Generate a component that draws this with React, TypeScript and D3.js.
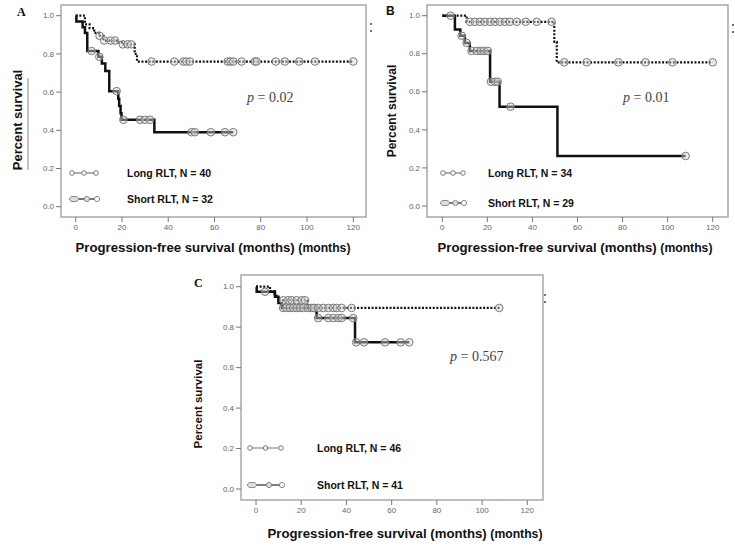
import React from "react";
import * as d3 from "d3";

// Kaplan-Meier step points [month, survival] and censor months
const longA = [[0, 1.0], [4, 0.955], [6, 0.935], [8, 0.91], [10, 0.895], [12, 0.87], [18, 0.86], [20, 0.85], [25.5, 0.8], [26.5, 0.76]];
const longAEnd = 120;
const longACens = [10.3, 12.3, 15.2, 17, 20.4, 22.5, 24, 32.8, 42.6, 46.5, 47.9, 49.4, 65.7, 66.9, 68.1, 71.7, 77.5, 78.2, 86.5, 90.4, 96.6, 103.4, 120];
const shortA = [[0, 1.0], [0.3, 0.97], [3, 0.94], [4, 0.91], [5, 0.815], [9.8, 0.785], [11.3, 0.75], [12.8, 0.71], [14.5, 0.605], [18.4, 0.565], [18.8, 0.527], [19.4, 0.489], [19.8, 0.455], [34, 0.39]];
const shortAEnd = 68.1;
const shortACens = [6.9, 10.2, 17.7, 20.6, 27.8, 29.9, 32.1, 50.1, 51.5, 58.4, 64.5, 68.1];

const longB = [[0, 1.0], [10.8, 0.968], [49.7, 0.863], [50.8, 0.755]];
const longBEnd = 120;
const longBCens = [12.3, 14.5, 16.7, 18.9, 21.2, 23.4, 25.6, 27.8, 30.0, 33.1, 37.0, 41.9, 48.5, 54.1, 64.1, 78.1, 90.2, 102.1, 120];
const shortB = [[0, 1.0], [5.6, 0.928], [8, 0.895], [10, 0.857], [12.2, 0.815], [21.2, 0.653], [25.4, 0.522], [51.1, 0.263]];
const shortBEnd = 108;
const shortBCens = [3.7, 8.6, 10.8, 13, 15.3, 17, 18.5, 20.2, 21.6, 23.4, 24.6, 30.3, 108];

const longC = [[0, 1.0], [6.2, 0.978], [8.2, 0.955], [9.9, 0.933], [22.7, 0.895]];
const longCEnd = 108;
const longCCens = [12.1, 14.3, 15.8, 18, 20.2, 21.7, 25.4, 27.6, 29.8, 32, 34.2, 35.7, 37.9, 42.3, 107.6];
const shortC = [[0, 1.0], [0.3, 0.975], [8.4, 0.95], [9.9, 0.92], [11.4, 0.895], [26.8, 0.845], [43.8, 0.725]];
const shortCEnd = 67.8;
const shortCCens = [4, 12, 13.5, 15, 16.5, 18, 19.5, 21, 23, 24.5, 26, 27.5, 32, 34.2, 36.4, 37.9, 43, 44.3, 47.8, 57.1, 64, 67.8];

const xTicks = [0, 20, 40, 60, 80, 100, 120];
const yTicks = [0, 0.2, 0.4, 0.6, 0.8, 1.0];

const SANS = "'Liberation Sans', Arial, sans-serif";
const SERIF = "'Liberation Serif', 'Times New Roman', serif";

const survAt = (steps, t) => {
  let v = steps[0][1];
  steps.forEach((s) => {
    if (s[0] <= t) v = s[1];
  });
  return v;
};

const Panel = ({ p }) => {
  const x = d3.scaleLinear().domain([0, 120]).range([p.x0, p.x120]);
  const y = d3.scaleLinear().domain([0, 1]).range([p.y0, p.y1]);
  const line = d3
    .line()
    .curve(d3.curveStepAfter)
    .x((d) => x(d[0]))
    .y((d) => y(d[1]));

  const curve = (steps, end) => line([...steps, [end, steps[steps.length - 1][1]]]);
  const cens = (steps, times, key) =>
    times.map((t, i) => (
      <circle key={key + i} cx={x(t)} cy={y(survAt(steps, t))} r={3.8}
        fill="#d8d8d8" fillOpacity={0.45} stroke="#7a7a7a" strokeWidth={1} />
    ));

  const [fl, ft, fr, fb] = p.frame;
  const midY = (ft + fb) / 2;

  return (
    <g>
      <rect x={fl} y={ft} width={fr - fl} height={fb - ft} fill="none" stroke="#9a9a9a" strokeWidth={1.3} />
      {yTicks.map((t) => (
        <g key={"y" + t}>
          <line x1={fl - 5} x2={fl} y1={y(t)} y2={y(t)} stroke="#777" strokeWidth={1} />
          <text x={fl - 7} y={y(t)} dy="0.33em" textAnchor="end" fontSize={8} fill="#666" fontFamily={SANS}>
            {t.toFixed(1)}
          </text>
        </g>
      ))}
      {xTicks.map((t) => (
        <g key={"x" + t}>
          <line x1={x(t)} x2={x(t)} y1={fb} y2={fb + 5} stroke="#777" strokeWidth={1} />
          <text x={x(t)} y={fb + 13} textAnchor="middle" fontSize={8} fill="#666" fontFamily={SANS}>
            {t}
          </text>
        </g>
      ))}

      <path d={curve(p.short, p.shortEnd)} fill="none" stroke="#111" strokeWidth={2.5} />
      <path d={curve(p.long, p.longEnd)} fill="none" stroke="#111" strokeWidth={2.2} strokeDasharray="2,1.6" />
      {cens(p.short, p.shortCens, "s")}
      {cens(p.long, p.longCens, "l")}

      {/* legend */}
      <line x1={p.leg.x1} x2={p.leg.x2} y1={p.leg.y1} y2={p.leg.y1} stroke="#777" strokeWidth={1.2} />
      {[0, 0.5, 1].map((f) => (
        <circle key={"lg" + f} cx={p.leg.x1 + 2 + f * (p.leg.x2 - p.leg.x1 - 4)} cy={p.leg.y1} r={2.3}
          fill="#fff" stroke="#777" strokeWidth={1} />
      ))}
      <text x={p.leg.tx} y={p.leg.y1} dy="0.35em" fontSize={p.legFont} fontWeight="bold" fontFamily={SANS} fill="#111">
        {p.longLabel}
      </text>
      <line x1={p.leg.x1} x2={p.leg.x2} y1={p.leg.y2} y2={p.leg.y2} stroke="#555" strokeWidth={1.6} />
      <ellipse cx={p.leg.x1 + 4} cy={p.leg.y2} rx={4.5} ry={2.6} fill="#ddd" stroke="#888" strokeWidth={1} />
      <circle cx={p.leg.x1 + (p.leg.x2 - p.leg.x1) * 0.6} cy={p.leg.y2} r={2.6} fill="#ddd" stroke="#888" strokeWidth={1} />
      <circle cx={p.leg.x2 - 1} cy={p.leg.y2} r={2.6} fill="#fff" stroke="#888" strokeWidth={1} />
      <text x={p.leg.tx} y={p.leg.y2} dy="0.35em" fontSize={p.legFont} fontWeight="bold" fontFamily={SANS} fill="#111">
        {p.shortLabel}
      </text>

      <text x={p.pv[0]} y={p.pv[1]} dy="0.35em" fontSize={14} fontFamily={SERIF} fill="#444">
        <tspan fontStyle="italic">p</tspan> = {p.pText}
      </text>

      <text transform={`translate(${p.ylx},${p.ylCenter ?? midY}) rotate(-90)`} textAnchor="middle"
        fontSize={p.ylFont} fontWeight="bold" fontFamily={SANS} fill="#111">
        Percent survival
      </text>
      <text x={p.xlCenter} y={p.xly} textAnchor="middle" fontSize={13.2} fontWeight="bold" fontFamily={SANS} fill="#111">
        Progression-free survival (months) <tspan fontSize={12.2}>(months)</tspan>
      </text>

      <text x={p.letter[0]} y={p.letter[1]} fontSize={12} fontWeight="bold"
        fontFamily={p.letterSerif ? SERIF : SANS} fill="#111">
        {p.letterText}
      </text>
      <line x1={p.mark[0]} x2={p.mark[0]} y1={p.mark[1]} y2={p.mark[1] + 2} stroke="#444" strokeWidth={1.5} />
      <line x1={p.mark[0]} x2={p.mark[0]} y1={p.mark[1] + 7} y2={p.mark[1] + 9} stroke="#444" strokeWidth={1.5} />
    </g>
  );
};

const panels = [
  {
    letterText: "A", letterSerif: true, letter: [17, 16],
    frame: [61, 5, 366, 217], x0: 75.7, x120: 353.3, y0: 206.7, y1: 15.7,
    long: longA, longEnd: longAEnd, longCens: longACens,
    short: shortA, shortEnd: shortAEnd, shortCens: shortACens,
    leg: { x1: 70, x2: 98, y1: 173, y2: 199, tx: 127 }, legFont: 10.5,
    longLabel: "Long RLT, N = 40", shortLabel: "Short RLT, N = 32",
    pv: [247, 97], pText: "0.02",
    ylx: 22, ylCenter: 120, ylFont: 13, xlCenter: 213, xly: 252, mark: [371, 23],
  },
  {
    letterText: "B", letterSerif: false, letter: [386, 15],
    frame: [427, 5, 728, 217], x0: 442.3, x120: 712.7, y0: 206, y1: 15.7,
    long: longB, longEnd: longBEnd, longCens: longBCens,
    short: shortB, shortEnd: shortBEnd, shortCens: shortBCens,
    leg: { x1: 441, x2: 465, y1: 173, y2: 203, tx: 488 }, legFont: 10.5,
    longLabel: "Long RLT, N = 34", shortLabel: "Short RLT, N = 29",
    pv: [623, 97], pText: "0.01",
    ylx: 396, ylCenter: 111, ylFont: 12, xlCenter: 575, xly: 252, mark: [733, 24],
  },
  {
    letterText: "C", letterSerif: true, letter: [194, 287],
    frame: [241, 275, 543, 500], x0: 256, x120: 527.3, y0: 489, y1: 286.7,
    long: longC, longEnd: longCEnd, longCens: longCCens,
    short: shortC, shortEnd: shortCEnd, shortCens: shortCCens,
    leg: { x1: 248, x2: 283, y1: 448, y2: 485, tx: 317 }, legFont: 10.5,
    longLabel: "Long RLT, N = 46", shortLabel: "Short RLT, N = 41",
    pv: [450, 356], pText: "0.567",
    ylx: 202, ylCenter: 404, ylFont: 11.5, xlCenter: 405, xly: 538, mark: [545, 294],
  },
];

export default function App() {
  return (
    <svg width={735} height={549} style={{ position: "absolute", left: 0, top: 0, background: "#fff" }}>
      <rect width={735} height={549} fill="#fff" />
      <line x1={28} x2={28} y1={78} y2={170} stroke="#888" strokeWidth={1} />
      {panels.map((p) => (
        <Panel key={p.letterText} p={p} />
      ))}
    </svg>
  );
}
